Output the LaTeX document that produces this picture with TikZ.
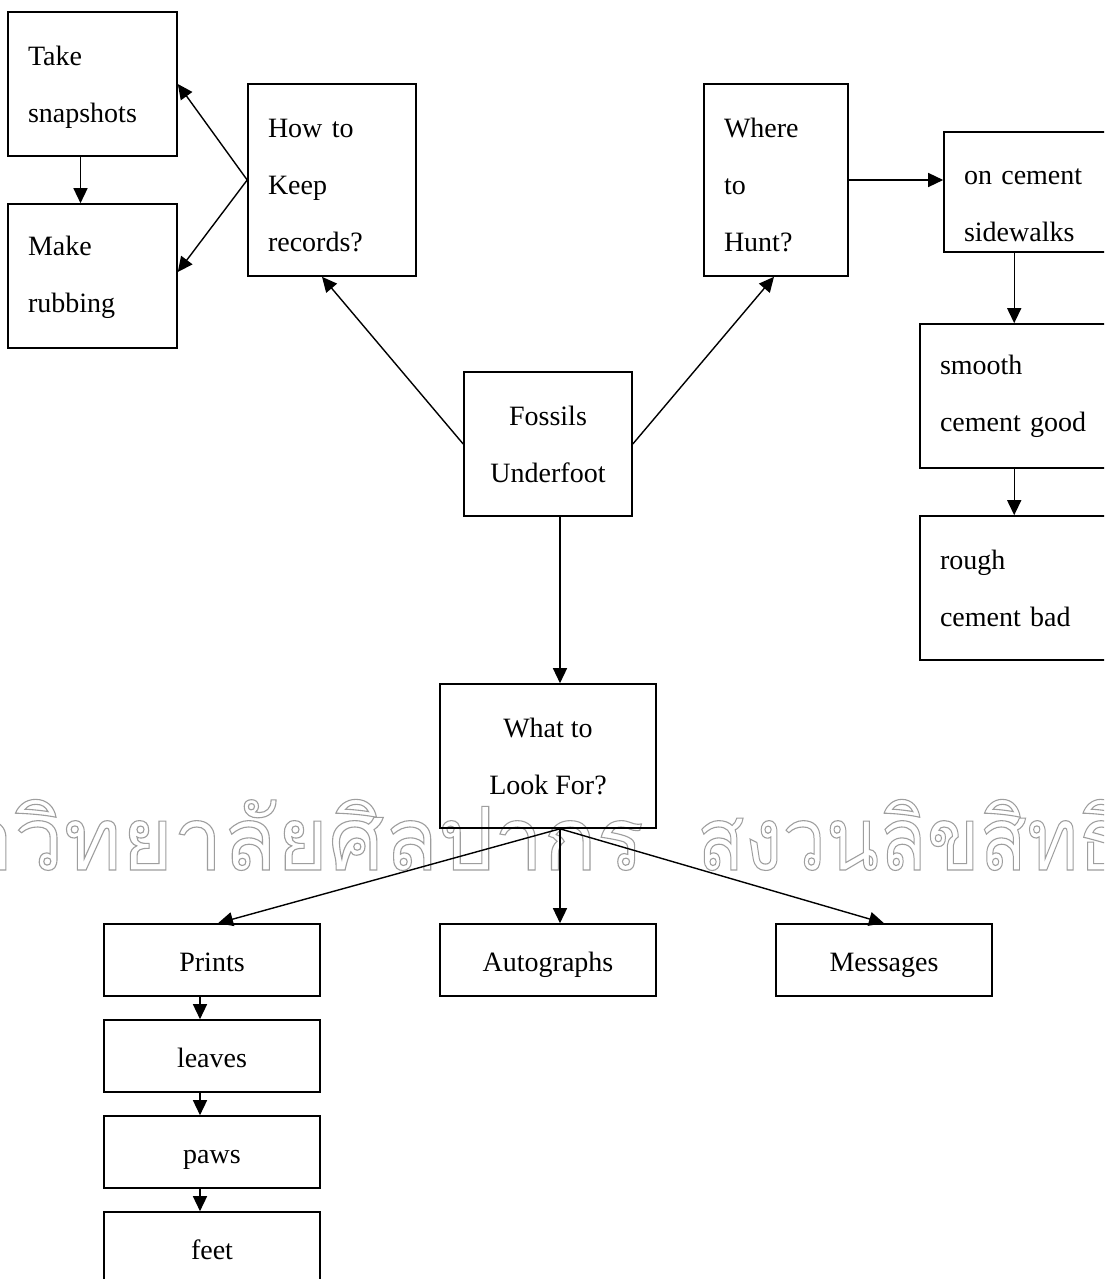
\documentclass[tikz,border=0pt]{standalone}
\usepackage{fontspec}
\setmainfont{Liberation Serif}
\newfontfamily\thaifont[Script=Thai]{Loma}
\usetikzlibrary{arrows.meta,calc}
\newcommand{\outlinetext}[1]{{\color{black!38}\special{pdf:literal direct q 1 Tr 1 w}#1\special{pdf:literal direct Q}}}
\begin{document}
\begin{tikzpicture}[x=1pt,y=-1pt,
  bx/.style={draw,line width=1.6pt,inner sep=0pt,font=\fontsize{28}{57}\selectfont},
  one/.style={bx,minimum width=216pt,minimum height=72pt,text height=28pt,text depth=6pt},
  arr/.style={-{Triangle[length=15pt,width=14pt]},line width=1.4pt},
  wm/.style={inner sep=0pt,font=\thaifont\fontsize{80}{80}\selectfont}]
\clip (0,0) rectangle (1104,1279);
\fill[white] (0,0) rectangle (1104,1279);
% watermark
\node[wm,anchor=base east] (wma) at (644,870) {\scalebox{1.1}[1.1]{\outlinetext{มหาวิทยาลัยศิลปากร}}};
\node[wm,anchor=base west] (wmb) at (697,870) {\scalebox{0.97}[1.1]{\outlinetext{สงวนลิขสิทธิ์}}};
% boxes
\node[bx,minimum width=169pt,minimum height=144pt,text width=129pt,align=left] (take) at (92.5,84) {\rule{0pt}{25pt}Take\\snapshots};
\node[bx,minimum width=169pt,minimum height=144pt,text width=129pt,align=left] (make) at (92.5,276) {\rule{0pt}{23pt}Make\\rubbing};
\node[bx,minimum width=168pt,minimum height=192pt,text width=128pt,align=left] (how) at (332,180) {\rule{0pt}{29pt}How to\\Keep\\records?};
\node[bx,minimum width=144pt,minimum height=192pt,text width=104pt,align=left] (where) at (776,180) {\rule{0pt}{29pt}Where\\to\\Hunt?};
\node[bx,minimum width=200pt,minimum height=120pt,text width=160pt,align=left] (cement) at (1044,192) {\rule{0pt}{43pt}on cement\\sidewalks};
\node[bx,minimum width=216pt,minimum height=144pt,text width=176pt,align=left] (smooth) at (1028,396) {smooth\\cement good};
\node[bx,minimum width=216pt,minimum height=144pt,text width=176pt,align=left] (rough) at (1028,588) {rough\\cement bad};
\node[bx,minimum width=168pt,minimum height=144pt,align=center] (fossils) at (548,444) {Fossils\\Underfoot};
\node[bx,minimum width=216pt,minimum height=144pt,align=center] (what) at (548,756) {What to\\Look For?};
\node[one] (prints) at (212,960) {Prints};
\node[one] (aut) at (548,960) {Autographs};
\node[one] (msg) at (884,960) {Messages};
\node[one] (leaves) at (212,1056) {leaves};
\node[one] (paws) at (212,1152) {paws};
\node[one] (feet) at (212,1248) {feet};
% connectors
\draw[arr] (how.west) -- (take.east);
\draw[arr] (how.west) -- ($(make.east)+(0,-4)$);
\draw[arr] ($(take.south)+(-12,0)$) -- ($(make.north)+(-12,0)$);
\draw[arr] (fossils.west) -- ($(how.south)+(-10,0)$);
\draw[arr] (fossils.east) -- ($(where.south)+(-2,0)$);
\draw[arr] (where.east) -- (cement.west |- where.east);
\coordinate (sx) at ($(smooth.north west)+(95,0)$);
\draw[arr] (sx |- cement.south) -- (sx);
\draw[arr] (sx |- smooth.south) -- (sx |- rough.north);
\draw[arr] ($(fossils.south)+(12,0)$) -- ($(what.north)+(12,0)$);
\coordinate (wb) at ($(what.south)+(12,0)$);
\draw[arr] (wb) -- ($(prints.north)+(6,0)$);
\draw[arr] (wb) -- (wb |- aut.north);
\draw[arr] (wb) -- (msg.north);
\draw[arr] ($(prints.south)+(-12,0)$) -- ($(leaves.north)+(-12,0)$);
\draw[arr] ($(leaves.south)+(-12,0)$) -- ($(paws.north)+(-12,0)$);
\draw[arr] ($(paws.south)+(-12,0)$) -- ($(feet.north)+(-12,0)$);
\end{tikzpicture}
\end{document}
